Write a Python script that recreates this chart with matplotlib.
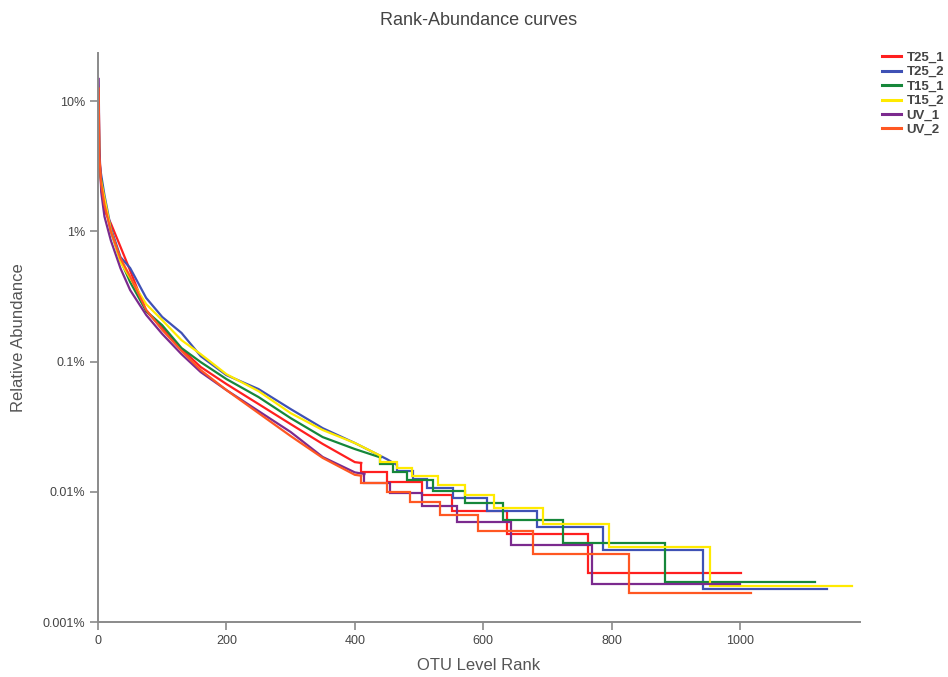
import matplotlib
matplotlib.use("Agg")
import matplotlib.pyplot as plt
from matplotlib.ticker import FixedLocator, FixedFormatter, NullLocator

plt.rcParams['font.family'] = ['Liberation Sans', 'DejaVu Sans']

samples = ["T25_1", "T25_2", "T15_1", "T15_2", "UV_1", "UV_2"]
colors = ["#ff1f1f", "#3f51b5", "#16873a", "#ffea00", "#7b2a8e", "#ff5722"]

# Abundant part of each curve: OTU rank vs. relative abundance (%)
t25_1_rank = [1, 2, 5, 10, 20, 35, 50, 75, 100, 130, 160, 200, 250, 300, 350, 400, 410]
t25_1_pct = [12.0, 4.0, 2.2, 1.45, 1.15, 0.76, 0.50, 0.244, 0.181, 0.125, 0.0908, 0.0672,
             0.0472, 0.0331, 0.0233, 0.0169, 0.01664]
t25_2_rank = [1, 2, 5, 10, 20, 35, 50, 75, 100, 130, 160, 200, 250, 300, 350, 400, 450, 465]
t25_2_pct = [10.5, 3.4, 2.7, 1.9, 1.06, 0.634, 0.523, 0.308, 0.22, 0.166, 0.110, 0.0787,
             0.0615, 0.0432, 0.0308, 0.0237, 0.0178, 0.01613]
t15_1_rank = [1, 2, 5, 10, 20, 35, 50, 75, 100, 130, 160, 200, 250, 300, 350, 400, 440]
t15_1_pct = [8.0, 3.0, 2.5, 1.7, 1.0, 0.6, 0.408, 0.244, 0.190, 0.127, 0.099, 0.0734,
             0.0534, 0.0368, 0.0263, 0.0213, 0.01835]
t15_2_rank = [1, 2, 5, 10, 20, 35, 50, 75, 100, 130, 160, 200, 250, 300, 350, 400, 440]
t15_2_pct = [9.0, 3.2, 2.4, 1.8, 1.02, 0.58, 0.437, 0.276, 0.208, 0.146, 0.114, 0.080,
             0.0593, 0.0402, 0.0298, 0.0237, 0.01889]
uv_1_rank = [1, 2, 5, 10, 20, 35, 50, 75, 100, 130, 160, 200, 250, 300, 350, 400, 415]
uv_1_pct = [14.8, 4.5, 2.0, 1.3, 0.85, 0.52, 0.354, 0.228, 0.163, 0.114, 0.083, 0.0604,
            0.0417, 0.0288, 0.0185, 0.0141, 0.0137]
uv_2_rank = [1, 2, 5, 10, 20, 35, 50, 75, 100, 130, 160, 200, 250, 300, 350, 400, 410]
uv_2_pct = [12.5, 3.8, 2.3, 1.6, 1.0, 0.62, 0.45, 0.25, 0.175, 0.121, 0.086, 0.0604,
            0.0402, 0.0268, 0.0182, 0.0135, 0.01329]

# Rare tail: ranks where the abundance steps down, with the level reached after each step
t25_1_tail_rank = [410, 450, 504, 551, 637, 763, 1001]
t25_1_tail_pct = [0.01664, 0.01426, 0.01189, 0.009508, 0.007131, 0.004754, 0.002377]
t25_2_tail_rank = [465, 490, 512, 553, 606, 684, 787, 942, 1135]
t25_2_tail_pct = [0.01613, 0.01434, 0.01254, 0.01075, 0.00896, 0.007168, 0.005376,
                  0.003584, 0.001792]
t15_1_tail_rank = [440, 460, 481, 522, 572, 631, 725, 883, 1117]
t15_1_tail_pct = [0.01835, 0.01631, 0.01427, 0.01223, 0.0102, 0.008156, 0.006117,
                  0.004078, 0.002039]
t15_2_tail_rank = [440, 465, 489, 530, 572, 617, 693, 796, 954, 1174]
t15_2_tail_pct = [0.01889, 0.017, 0.01511, 0.01322, 0.01134, 0.009446, 0.007557,
                  0.005668, 0.003778, 0.001889]
uv_1_tail_rank = [415, 455, 504, 559, 644, 769, 1000]
uv_1_tail_pct = [0.0137, 0.01174, 0.009785, 0.007828, 0.005871, 0.003914, 0.001957]
uv_2_tail_rank = [410, 450, 486, 532, 592, 678, 827, 1017]
uv_2_tail_pct = [0.01329, 0.01163, 0.009966, 0.008305, 0.006644, 0.004983, 0.003322,
                 0.001661]

heads = [(t25_1_rank, t25_1_pct), (t25_2_rank, t25_2_pct), (t15_1_rank, t15_1_pct),
         (t15_2_rank, t15_2_pct), (uv_1_rank, uv_1_pct), (uv_2_rank, uv_2_pct)]
tails = [(t25_1_tail_rank, t25_1_tail_pct), (t25_2_tail_rank, t25_2_tail_pct),
         (t15_1_tail_rank, t15_1_tail_pct), (t15_2_tail_rank, t15_2_tail_pct),
         (uv_1_tail_rank, uv_1_tail_pct), (uv_2_tail_rank, uv_2_tail_pct)]

y_ticks = [0.001, 0.01, 0.1, 1, 10]
y_tick_labels = ["0.001%", "0.01%", "0.1%", "1%", "10%"]
x_ticks = [0, 200, 400, 600, 800, 1000]

fig = plt.figure(figsize=(9.48, 6.77), dpi=100)
ax = fig.add_axes([0.1034, 0.0812, 0.8038, 0.8405])

lw = 1.6
for name, color, (hr, hp), (tr, tp) in zip(samples, colors, heads, tails):
    ax.plot(hr, hp, color=color, lw=lw, solid_joinstyle="miter", label=name)
    ax.step(tr, tp, where="pre", color=color, lw=lw, solid_joinstyle="miter")

ax.set_yscale("log")
ax.set_xlim(0, 1187)
ax.set_ylim(0.001, 23.4)
ax.yaxis.set_major_locator(FixedLocator(y_ticks))
ax.yaxis.set_major_formatter(FixedFormatter(y_tick_labels))
ax.yaxis.set_minor_locator(NullLocator())
ax.set_xticks(x_ticks)

for side in ("top", "right"):
    ax.spines[side].set_visible(False)
for side in ("left", "bottom"):
    ax.spines[side].set_color("#8a8a8a")
    ax.spines[side].set_linewidth(1.4)
ax.tick_params(axis="both", colors="#8a8a8a", width=1.2, length=6,
               labelsize=9, labelcolor="#444444")

ax.set_xlabel("OTU Level Rank", fontsize=12, color="#555555", labelpad=8)
ax.set_ylabel("Relative Abundance", fontsize=12, color="#555555", labelpad=12)
fig.text(0.505, 0.970, "Rank-Abundance curves", ha="center", va="center",
         fontsize=13, color="#444444")

leg = fig.legend(loc="upper left", bbox_to_anchor=(0.930, 0.924), frameon=False,
                 borderpad=0, borderaxespad=0, handlelength=1.45, handletextpad=0.45,
                 labelspacing=0.17, prop={"weight": "bold", "size": 9.5},
                 labelcolor="#444444")
for handle in leg.legend_handles:
    handle.set_linewidth(2.2)

fig.savefig("out.png", dpi=100)
